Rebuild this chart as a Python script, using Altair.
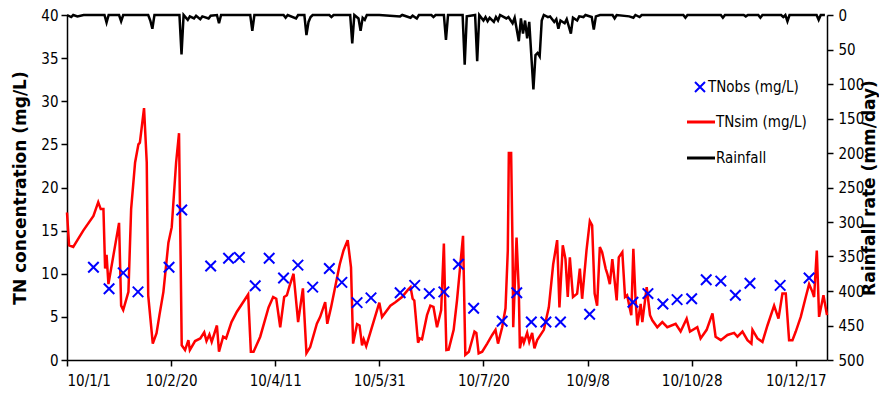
import altair as alt
import pandas as pd

START = "2010-01-01"
END = "2011-01-01"

# Simulated TN (mg/L): day offset from START, value
sim_days = [0, 1, 3, 7.8, 12.7, 15, 16.2, 17.5, 18.3, 19, 19.9, 25, 26, 27, 29.5, 30.8, 32.7, 34.3, 35, 37,
            38.3, 39, 41.2, 43, 44.4, 46.3, 48.7, 50.3, 52.4, 53.8, 55.1, 56.7, 58.3, 59, 61.5, 64, 65.9, 67,
            68.4, 69.5, 72, 73, 75, 76.4, 79, 81.6, 87, 88.3, 89.6, 92.8, 96.8, 99, 100.5, 102.4, 104.3, 105.6,
            106.9, 108.8, 111, 113.3, 115, 116.8, 120, 121.6, 124, 125, 126.8, 131, 132.8, 134.8, 136.4, 137.4,
            139.3, 140.5, 141.7, 142.5, 143.7, 150, 151.3, 155.3, 157.7, 160.9, 163.6, 165, 166, 166.8, 168.6,
            169.4, 170.5, 172.9, 174.5, 176, 177.7, 179.7, 181, 181.7, 182.2, 183.3, 185.7, 187.3, 189, 190.2,
            191.3, 193, 195.7, 196.6, 197.7, 199.4, 201.8, 204.2, 205.8, 207, 209, 210.6, 211.7, 212.2, 213.3,
            214, 214.3, 214.9, 215.9, 217, 217.5, 218.6, 219.4, 221, 222, 223.4, 224.5, 225.8, 229, 231.4,
            233.5, 235.4, 236.5, 238.1, 239.4, 240.5, 241.5, 243, 245, 246.3, 247.4, 249.5, 251.1, 252.2, 253.4,
            254.6, 255.9, 257, 258.7, 259.5, 260.7, 261.9, 264, 265, 266.7, 268, 269, 271, 272, 273, 273.9,
            275.5, 276.3, 278.4, 280, 281.1, 283.5, 285.9, 288.3, 292.3, 294.7, 297.6, 299.2, 302.7, 304.3,
            307.2, 310, 311.5, 314, 317.2, 320.4, 322, 324.4, 326.8, 328.7, 329.2, 331.6, 334, 336.4, 339.6,
            341.7, 343.6, 345.2, 346.8, 348.4, 350, 352.4, 354.8, 356.4, 358, 358.8, 360.1, 361.2, 363.3, 365]
sim_vals = [17.1, 13.3, 13.1, 15.0, 16.7, 18.3, 17.5, 17.5, 10.6, 12.2, 8.8, 15.9, 6.3, 5.8, 7.9, 17.5, 22.9, 25.0, 25.2, 29.2,
            22.9, 7.5, 1.9, 3.1, 5.2, 7.9, 13.6, 15.4, 22.9, 26.3, 1.7, 1.15, 2.3, 1.15, 2.2, 2.5, 3.2, 2.2,
            2.95, 2.1, 4.0, 0.96, 2.7, 2.5, 4.4, 5.6, 7.6, 0.96, 0.96, 2.7, 6.1, 7.3, 7.1, 3.8, 7.3, 7.5,
            8.6, 10.0, 4.4, 8.3, 0.8, 1.5, 4.2, 5.0, 6.7, 4.2, 6.1, 11.1, 12.7, 13.9, 10.75, 1.9,
            4.15, 4.0, 1.7, 2.4, 1.6, 6.65, 5.0, 6.3, 6.7, 7.3, 8.1, 8.45, 7.1, 6.9, 2.0,
            2.5, 2.4, 5.2, 6.3, 6.15, 3.8, 5.8, 13.5, 6.0, 1.15, 1.2, 3.5, 6.9, 11.3, 14.4,
            0.6, 0.96, 3.3, 3.15, 0.77, 0.96, 1.9, 2.9, 3.5, 1.9, 3.8, 6.0, 12.7, 24.0, 24.0,
            12.7, 3.8, 7.7, 14.2, 7.9, 1.35, 2.7, 2.0, 3.15, 2.1, 3.15, 1.35, 2.3, 3.5, 6.1,
            11.1, 13.9, 6.1, 13.3, 11.7, 7.3, 11.9, 7.3, 7.7, 10.6, 7.1, 12.7, 16.1, 15.6, 7.7,
            6.3, 13.1, 12.5, 10.6, 10.0, 8.8, 11.7, 6.9, 11.9, 12.5, 7.3, 7.5, 5.2, 12.9, 7.3, 4.0,
            6.5, 4.4, 8.45, 5.2, 4.6, 3.8, 4.4, 3.8, 4.2, 3.3, 4.8, 3.3, 3.8, 2.5,
            3.5, 5.4, 2.7, 2.3, 2.9, 3.15, 2.7, 3.3, 2.3, 1.9, 3.5, 2.5, 2.1, 4.0, 6.3,
            4.8, 7.7, 7.7, 2.3, 2.3, 3.3, 5.0, 7.3, 8.8, 7.9, 7.3, 12.7, 5.0, 7.5, 5.2]

# Observed TN (mg/L)
obs_days = [12.7, 20.2, 27, 34.1, 49, 55.1, 69, 77.6, 82.8, 90.4, 97.1, 104, 110.9, 118, 126, 132, 139.3,
            146, 160, 167, 174, 181, 188, 195.3, 209, 216, 223, 230, 237, 251, 271.8, 279, 286.2, 293, 300,
            307, 314, 321, 328, 342.5, 356.4]
obs_vals = [10.75, 8.26, 10.1, 7.9, 10.75, 17.4, 10.9, 11.8, 11.9, 8.6, 11.8, 9.5, 11.0, 8.45, 10.6, 9.0, 6.65,
            7.2, 7.8, 8.65, 7.7, 7.9, 11.1, 6.0, 4.5, 7.8, 4.4, 4.4, 4.4, 5.3, 6.7, 7.7, 6.5, 7.0, 7.1,
            9.3, 9.15, 7.5, 8.9, 8.65, 9.5]

# Rainfall (mm/day)
rain_days = [0, 2, 3, 5, 8, 18, 19, 20, 25, 26, 27, 39, 40, 41, 42, 54, 55, 56, 58, 59, 61, 62, 64, 65, 68, 69,
             72, 73, 74, 88, 89, 90, 104, 105, 106, 110, 111, 114, 115, 116, 117, 118, 126, 127, 128, 136, 137,
             138, 140, 141, 142, 143, 144, 150, 160, 161, 165, 166, 168, 169, 175, 176, 177, 181, 182, 183, 190,
             191, 192, 196, 197, 198, 200, 201, 202, 203, 205, 206, 207, 208, 211, 212, 214, 215, 217, 218, 219,
             220, 221, 222, 224, 225, 226, 227, 228, 229, 231, 232, 234, 235, 236, 237, 239, 240, 242, 243, 245,
             246, 248, 249, 252, 253, 254, 256, 262, 263, 264, 270, 272, 273, 275, 276, 296, 297, 298, 314, 315,
             316, 325, 326, 327, 332, 333, 334, 343, 344, 345, 346, 347, 360, 361, 362, 364]
rain_vals = [0, 3, 0, 2, 0, 0, 11, 0, 0, 9, 0, 0, 8, 20, 0, 0, 57, 0, 7, 2, 5, 1, 6, 2, 5, 1,
             0, 12, 0, 0, 23, 0, 0, 4, 0, 5, 0, 0, 29, 10, 3, 0, 0, 3, 0, 0, 41,
             0, 5, 23, 4, 7, 0, 0, 2, 0, 4, 1, 5, 0, 0, 3, 0, 0, 36, 0, 0,
             72, 2, 0, 67, 0, 8, 3, 9, 4, 10, 3, 8, 0, 5, 3, 12, 4, 38, 5, 27,
             8, 34, 10, 108, 58, 55, 60, 8, 0, 3, 2, 10, 6, 20, 8, 12, 6, 27, 4, 8,
             2, 3, 0, 3, 21, 2, 0, 0, 5, 0, 2, 4, 0, 3, 0, 0, 4, 0, 0, 4,
             0, 0, 2, 0, 0, 4, 0, 0, 3, 0, 9, 0, 0, 7, 0, 0]

tick_dates = ["2010-01-01", "2010-02-20", "2010-04-11", "2010-05-31", "2010-07-20",
              "2010-09-08", "2010-10-28", "2010-12-17"]
tn_ticks = [0, 5, 10, 15, 20, 25, 30, 35, 40]
rain_ticks = [0, 50, 100, 150, 200, 250, 300, 350, 400, 450, 500]
legend_labels = ["TNobs (mg/L)", "TNsim (mg/L)", "Rainfall"]

LABEL_FONT = "Liberation Sans Narrow, DejaVu Sans Condensed, sans-serif"
TITLE_FONT = "DejaVu Sans"

PLOT_H = 345
TITLE_Y = PLOT_H / 2


def to_iso(days):
    base = pd.Timestamp(START)
    return [(base + pd.Timedelta(days=float(d))).strftime("%Y-%m-%dT%H:%M:%SZ") for d in days]


def ms(s):
    return int(pd.Timestamp(s, tz="UTC").value // 10**6)


sim_df = pd.DataFrame({"date": to_iso(sim_days), "tn": sim_vals})
obs_df = pd.DataFrame({"date": to_iso(obs_days), "tn": obs_vals})
rain_df = pd.DataFrame({"date": to_iso(rain_days), "rain": rain_vals})

x_enc = alt.X(
    "date:T",
    scale=alt.Scale(type="utc", domain=[ms(START), ms(END)], nice=False),
    axis=alt.Axis(values=[ms(d) for d in tick_dates], format="%y/%-m/%-d", title=None,
                  labelPadding=7, labelFontSize=15),
)

tn_scale = alt.Scale(domain=[0, 40], nice=False)
tn_axis = alt.Axis(values=tn_ticks, title="TN concentration (mg/L)", orient="left",
                   titleX=-47, titleY=TITLE_Y, titleAngle=270, titleAlign="center",
                   titleBaseline="middle", labelPadding=3)

sim = alt.Chart(sim_df).mark_line(color="#FF0000", strokeWidth=2.5).encode(
    x=x_enc, y=alt.Y("tn:Q", scale=tn_scale, axis=tn_axis)
)

X_SHAPE = "M-1,-1L1,1M-1,1L1,-1"
obs = alt.Chart(obs_df).mark_point(shape=X_SHAPE, filled=False, color="#0000FF",
                                   strokeWidth=2, size=110, opacity=1).encode(
    x=x_enc, y=alt.Y("tn:Q", scale=tn_scale, axis=tn_axis)
)

leg1_df = pd.DataFrame({"label": [legend_labels[0]]})
leg2_df = pd.DataFrame({"label": [legend_labels[1]]})
leg3_df = pd.DataFrame({"label": [legend_labels[2]]})

leg_marker = alt.Chart(leg1_df).mark_point(shape=X_SHAPE, filled=False, color="#0000FF",
                                           strokeWidth=2, size=100, opacity=1).encode(
    x=alt.value(633), y=alt.value(72))
leg_text1 = alt.Chart(leg1_df).mark_text(align="left", baseline="middle", font=LABEL_FONT,
                                         fontSize=15, color="black").encode(
    x=alt.value(641), y=alt.value(72), text="label:N")
leg_line2 = alt.Chart(leg2_df).mark_rule(color="#FF0000", strokeWidth=3).encode(
    x=alt.value(620), x2=alt.value(648), y=alt.value(107))
leg_text2 = alt.Chart(leg2_df).mark_text(align="left", baseline="middle", font=LABEL_FONT,
                                         fontSize=15, color="black").encode(
    x=alt.value(649), y=alt.value(107), text="label:N")
leg_line3 = alt.Chart(leg3_df).mark_rule(color="black", strokeWidth=3).encode(
    x=alt.value(620), x2=alt.value(648), y=alt.value(143))
leg_text3 = alt.Chart(leg3_df).mark_text(align="left", baseline="middle", font=LABEL_FONT,
                                         fontSize=15, color="black").encode(
    x=alt.value(649), y=alt.value(143), text="label:N")

rain = alt.Chart(rain_df).mark_line(color="black", strokeWidth=2.5).encode(
    x=x_enc,
    y=alt.Y("rain:Q", scale=alt.Scale(domain=[0, 500], reverse=True, nice=False),
            axis=alt.Axis(values=rain_ticks, title="Rainfall rate (mm/day)", orient="right",
                          titleX=42, titleY=TITLE_Y, titleAngle=270, titleAlign="center",
                          titleBaseline="middle", labelPadding=5)),
)

inner = alt.layer(sim, obs, leg_marker, leg_text1, leg_line2, leg_text2, leg_line3, leg_text3)

chart = alt.layer(inner, rain).resolve_scale(y="independent").properties(
    width=760, height=PLOT_H,
    autosize=alt.AutoSizeParams(type="none"),
    padding={"left": 59, "top": 7, "right": 52, "bottom": 28},
).configure_view(stroke="transparent").configure_axis(
    grid=False, domainColor="black", domainWidth=1.5, tickColor="black", tickWidth=1.5,
    tickSize=6, labelFont=LABEL_FONT, labelFontSize=15, labelColor="black",
    titleFont=TITLE_FONT, titleFontSize=17, titleFontWeight="bold", titleColor="black",
)

chart.save("out.html", embed_options={"renderer": "svg", "actions": False})
